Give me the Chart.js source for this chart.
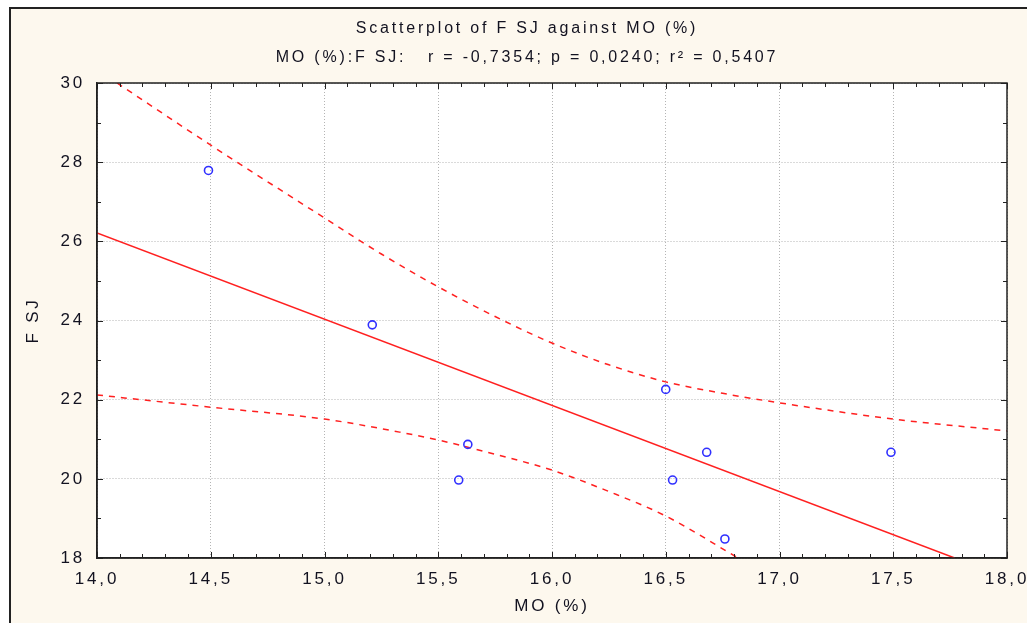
<!DOCTYPE html>
<html><head><meta charset="utf-8">
<script src="https://cdn.jsdelivr.net/npm/chart.js@4.4.1/dist/chart.umd.min.js"></script>
<style>html,body{margin:0;padding:0;background:#fff;overflow:hidden}canvas{display:block}</style>
</head><body>
<canvas id="chart" width="1027" height="623"></canvas>
<script>
// values
const moValues  = [14.49, 15.21, 15.59, 15.63, 16.50, 16.53, 16.68, 16.76, 17.49];
const fsjValues = [27.79, 23.89, 19.97, 20.87, 22.26, 19.97, 20.67, 18.48, 20.67];
const fitX = [14.0, 17.77];
const fitY = [26.21, 18.0];
const upperX = [14.088, 14.5, 15.0, 15.25, 15.5, 15.75, 16.0, 16.25, 16.5, 16.75, 17.0, 17.5, 18.0];
const upperY = [30.0, 28.43, 26.59, 25.68, 24.85, 24.10, 23.43, 22.88, 22.45, 22.16, 21.92, 21.51, 21.21];
const lowerX = [14.0, 14.5, 15.0, 15.33, 15.5, 15.75, 16.0, 16.25, 16.5, 16.818];
const lowerY = [22.12, 21.81, 21.51, 21.18, 20.98, 20.62, 20.22, 19.68, 19.06, 18.0];
const xMin = 14, xMax = 18, xStep = 0.5, xMinor = 5;
const yMin = 18, yMax = 30, yStep = 2, yMinor = 2;
const titleLines = ['Scatterplot of F SJ against MO (%)', 'MO (%):F SJ:   r = -0,7354; p = 0,0240; r² = 0,5407'];
const xLabel = 'MO (%)', yLabel = 'F SJ';

const ink = '#121220';
const pts = (xs, ys) => xs.map((x, i) => ({x, y: ys[i]}));
const fnt = size => ({family: 'Liberation Sans', size, weight: 'normal'});

const frame = {
  id: 'frame',
  beforeUpdate(chart){ chart.ctx.letterSpacing = '2.8px'; },
  beforeDraw(chart){
    const {ctx, chartArea: a, width, height} = chart;
    ctx.save();
    ctx.fillStyle = '#fff'; ctx.fillRect(0, 0, width, height);
    ctx.fillStyle = '#fdf8ee'; ctx.fillRect(10, 8, width - 10, height - 8);
    ctx.strokeStyle = '#222'; ctx.lineWidth = 2;
    ctx.beginPath(); ctx.moveTo(10, height); ctx.lineTo(10, 8); ctx.lineTo(width, 8); ctx.stroke();
    ctx.fillStyle = '#fff'; ctx.fillRect(a.left, a.top, a.right - a.left, a.bottom - a.top);
    ctx.restore();
    ctx.letterSpacing = '2.8px';
  },
  afterDraw(chart){
    const {ctx, chartArea: a, scales: {x, y}} = chart;
    ctx.save();
    ctx.strokeStyle = '#222'; ctx.lineWidth = 1;
    ctx.beginPath();
    const nx = Math.round((xMax - xMin) / xStep) * xMinor;
    for(let i = 0; i <= nx; i++){
      const px = Math.round(x.getPixelForValue(xMin + i * xStep / xMinor)) + 0.5;
      const len = i % xMinor === 0 ? 6 : 4;
      ctx.moveTo(px, a.top); ctx.lineTo(px, a.top + len);
      ctx.moveTo(px, a.bottom); ctx.lineTo(px, a.bottom - len);
    }
    const ny = Math.round((yMax - yMin) / yStep) * yMinor;
    for(let i = 0; i <= ny; i++){
      const py = Math.round(y.getPixelForValue(yMin + i * yStep / yMinor)) + 0.5;
      const len = i % yMinor === 0 ? 6 : 4;
      ctx.moveTo(a.left, py); ctx.lineTo(a.left + len, py);
      ctx.moveTo(a.right, py); ctx.lineTo(a.right - len, py);
    }
    ctx.stroke();
    ctx.lineWidth = 1.5;
    ctx.strokeRect(a.left, a.top, a.right - a.left, a.bottom - a.top);
    ctx.restore();
  }
};

const band = (xs, ys) => ({
  data: pts(xs, ys), showLine: true, pointRadius: 0, borderColor: '#ff2020', borderWidth: 1.5,
  borderDash: [6, 6], cubicInterpolationMode: 'monotone', fill: false
});

new Chart(document.getElementById('chart'), {
  type: 'scatter',
  data: {
    datasets: [
      {data: pts(moValues, fsjValues), pointRadius: 4, pointHoverRadius: 4, borderColor: '#3030ff', borderWidth: 1.6, backgroundColor: 'rgba(0,0,0,0)'},
      {data: pts(fitX, fitY), showLine: true, pointRadius: 0, borderColor: '#ff2020', borderWidth: 1.5, fill: false},
      band(upperX, upperY),
      band(lowerX, lowerY)
    ]
  },
  options: {
    responsive: false, animation: false, devicePixelRatio: 1,
    layout: {padding: {left: 47, right: 20, top: 0, bottom: 0}},
    plugins: {
      legend: {display: false}, tooltip: {enabled: false},
      title: {display: true, text: titleLines, color: ink, font: {...fnt(16), lineHeight: 29 / 16}, padding: {top: 14, bottom: 11}}
    },
    scales: {
      x: {
        type: 'linear', position: 'bottom', min: xMin, max: xMax,
        ticks: {stepSize: xStep, color: ink, font: fnt(17), padding: 11, maxRotation: 0, autoSkip: false,
          callback: v => v.toFixed(1).replace('.', ',')},
        grid: {color: '#b4b4b4', lineWidth: 1, drawTicks: false},
        border: {display: true, color: '#222', width: 1.5, dash: [1, 2]},
        title: {display: true, text: xLabel, color: ink, font: fnt(17), padding: {top: 0, bottom: 6}},
        afterFit(s){ s.height = 65; s.paddingLeft = 0; s.paddingRight = 0; }
      },
      y: {
        type: 'linear', position: 'left', min: yMin, max: yMax,
        ticks: {stepSize: yStep, color: ink, font: fnt(17), padding: 12},
        grid: {color: '#b4b4b4', lineWidth: 1, drawTicks: false},
        border: {display: true, color: '#222', width: 1.5, dash: [1, 2]},
        title: {display: true, text: yLabel, color: ink, font: fnt(17), padding: {top: -24, bottom: 0}},
        afterFit(s){ s.width = 50; s.paddingTop = 0; s.paddingBottom = 0; }
      }
    }
  },
  plugins: [frame]
});
</script>
</body></html>
